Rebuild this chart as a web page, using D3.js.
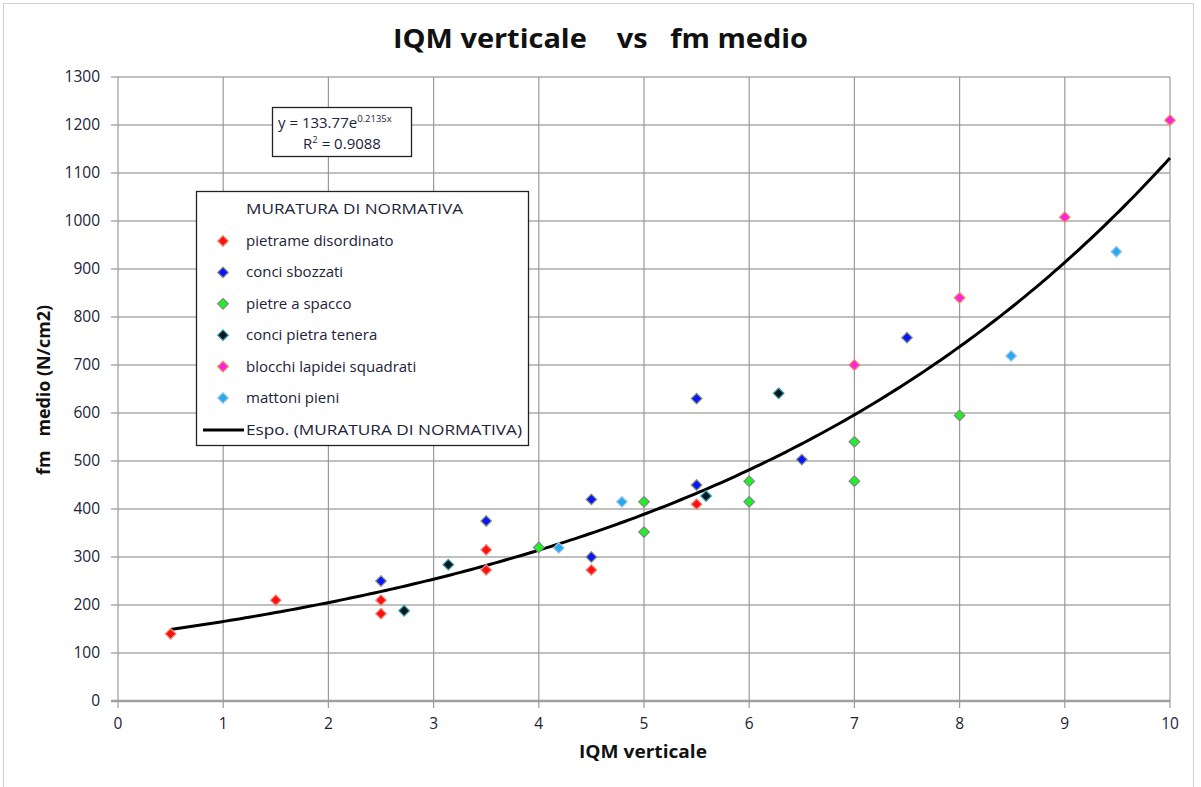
<!DOCTYPE html>
<html>
<head>
<meta charset="utf-8">
<script src="https://cdn.jsdelivr.net/npm/d3@7"></script>
<style>
  body { margin: 0; background: #fff; }
  svg { display: block; font-family: "Open Sans", "Noto Sans", sans-serif; }
</style>
</head>
<body>
<svg width="1201" height="787"></svg>
<script>
// series data
const pietrame_x  = [0.5, 1.5, 2.5, 2.5, 3.5, 3.5, 4.5, 5.5];
const pietrame_y  = [140, 210, 210, 182, 315, 273, 273, 410];
const sbozzati_x  = [2.5, 3.5, 4.5, 4.5, 5.5, 5.5, 6.5, 7.5];
const sbozzati_y  = [250, 375, 420, 300, 630, 450, 503, 757];
const spacco_x    = [4, 5, 5, 6, 6, 7, 7, 8];
const spacco_y    = [320, 415, 352, 458, 415, 540, 458, 595];
const tenera_x    = [2.72, 3.14, 5.59, 6.28];
const tenera_y    = [188, 284, 427, 641];
const blocchi_x   = [7, 8, 9, 10];
const blocchi_y   = [700, 840, 1008, 1210];
const mattoni_x   = [4.19, 4.79, 8.49, 9.49];
const mattoni_y   = [319, 415, 719, 936];

const series_names  = ["pietrame disordinato", "conci sbozzati", "pietre a spacco",
                       "conci pietra tenera", "blocchi lapidei squadrati", "mattoni pieni"];
const series_colors = ["#ff1010", "#0a14ff", "#22ee22", "#06181c", "#ff22dd", "#2aa8ee"];
const series_edges  = ["#e89080", "#8a9a70", "#7a8a8a", "#3aa0b0", "#f09060", "#a0c8e8"];

// exponential trend y = a * e^(b x)
const trend_a  = 133.77;
const trend_b  = 0.2135;
const trend_x0 = 0.5;
const trend_x1 = 10;

const x_ticks = [0, 1, 2, 3, 4, 5, 6, 7, 8, 9, 10];
const y_ticks = [0, 100, 200, 300, 400, 500, 600, 700, 800, 900, 1000, 1100, 1200, 1300];

const text_color = "#1c2238";

const svg    = d3.select("svg");
const width  = +svg.attr("width");
const height = +svg.attr("height");

const plot = { left: 118, right: 1170, top: 77, bottom: 701 };

const x = d3.scaleLinear().domain([0, 10]).range([plot.left, plot.right]);
const y = d3.scaleLinear().domain([0, 1300]).range([plot.bottom, plot.top]);

// outer frame
svg.append("rect")
  .attr("x", 3.5).attr("y", 3.5)
  .attr("width", 1190).attr("height", 790)
  .attr("fill", "none")
  .attr("stroke", "#d0d0d0")
  .attr("stroke-width", 1);

// title
svg.append("text")
  .attr("x", 393).attr("y", 48)
  .attr("font-size", 27)
  .attr("font-weight", "bold")
  .attr("fill", "#111")
  .attr("textLength", 415)
  .attr("lengthAdjust", "spacingAndGlyphs")
  .style("white-space", "pre")
  .text("IQM verticale    vs   fm medio");

// gridlines
const grid = svg.append("g");
grid.selectAll("line.h")
  .data(y_ticks)
  .enter().append("line")
  .attr("x1", plot.left - 7).attr("x2", plot.right)
  .attr("y1", d => y(d)).attr("y2", d => y(d))
  .attr("stroke", d => d === 0 ? "#a0a0a0" : "#ababab")
  .attr("stroke-width", d => d === 0 ? 2.5 : 1.6);

grid.selectAll("line.v")
  .data(x_ticks)
  .enter().append("line")
  .attr("x1", d => x(d)).attr("x2", d => x(d))
  .attr("y1", plot.top).attr("y2", plot.bottom + 7)
  .attr("stroke", "#9a9a9a")
  .attr("stroke-width", 1.2);

// y axis labels
svg.append("g").selectAll("text")
  .data(y_ticks)
  .enter().append("text")
  .attr("x", plot.left - 18)
  .attr("y", d => y(d) + 5)
  .attr("text-anchor", "end")
  .attr("font-size", 15.5)
  .attr("fill", text_color)
  .text(d => d);

// x axis labels
svg.append("g").selectAll("text")
  .data(x_ticks)
  .enter().append("text")
  .attr("x", d => x(d))
  .attr("y", plot.bottom + 28)
  .attr("text-anchor", "middle")
  .attr("font-size", 15.5)
  .attr("fill", text_color)
  .text(d => d);

// axis titles
svg.append("text")
  .attr("x", 579).attr("y", 758)
  .attr("font-size", 17)
  .attr("font-weight", "bold")
  .attr("fill", "#111")
  .attr("textLength", 128)
  .attr("lengthAdjust", "spacingAndGlyphs")
  .text("IQM verticale");

svg.append("text")
  .attr("transform", "translate(50,475) rotate(-90)")
  .attr("font-size", 17)
  .attr("font-weight", "bold")
  .attr("fill", "#111")
  .attr("textLength", 170)
  .attr("lengthAdjust", "spacingAndGlyphs")
  .style("white-space", "pre")
  .text("fm   medio (N/cm2)");

// trend line
const trend_pts = d3.range(0, 201).map(i => {
  const xv = trend_x0 + (trend_x1 - trend_x0) * i / 200;
  return [xv, trend_a * Math.exp(trend_b * xv)];
});
svg.append("path")
  .datum(trend_pts)
  .attr("d", d3.line().x(d => x(d[0])).y(d => y(d[1])))
  .attr("fill", "none")
  .attr("stroke", "#000")
  .attr("stroke-width", 3);

// points
const all_x = [pietrame_x, sbozzati_x, spacco_x, tenera_x, blocchi_x, mattoni_x];
const all_y = [pietrame_y, sbozzati_y, spacco_y, tenera_y, blocchi_y, mattoni_y];
const diamond = d3.symbol().type(d3.symbolDiamond2).size(72);

all_x.forEach(function(xs, s) {
  const pts = xs.map((xv, i) => ({ x: xv, y: all_y[s][i] }));
  svg.append("g").selectAll("path")
    .data(pts)
    .enter().append("path")
    .attr("d", diamond)
    .attr("transform", d => "translate(" + x(d.x) + "," + y(d.y) + ")")
    .attr("fill", series_colors[s])
    .attr("stroke", series_edges[s])
    .attr("stroke-width", 1.2);
});

// equation box
const eq = svg.append("g");
eq.append("rect")
  .attr("x", 272.5).attr("y", 107.5)
  .attr("width", 139).attr("height", 49)
  .attr("fill", "#fff")
  .attr("stroke", "#222")
  .attr("stroke-width", 1.3);
const eq1 = eq.append("text")
  .attr("x", 278).attr("y", 128)
  .attr("font-size", 15)
  .attr("fill", text_color);
eq1.append("tspan").text("y = 133.77e");
eq1.append("tspan").attr("font-size", 9.5).attr("dy", -6).text("0.2135x");
const eq2 = eq.append("text")
  .attr("x", 342).attr("y", 149)
  .attr("text-anchor", "middle")
  .attr("font-size", 15)
  .attr("fill", text_color);
eq2.append("tspan").text("R");
eq2.append("tspan").attr("font-size", 9.5).attr("dy", -6).text("2");
eq2.append("tspan").attr("dy", 6).text(" = 0.9088");

// legend
const lg = svg.append("g");
lg.append("rect")
  .attr("x", 196.5).attr("y", 191.5)
  .attr("width", 332).attr("height", 254)
  .attr("fill", "#fff")
  .attr("stroke", "#222")
  .attr("stroke-width", 1.3);
lg.append("text")
  .attr("x", 246).attr("y", 214)
  .attr("font-size", 15)
  .attr("fill", text_color)
  .attr("textLength", 217)
  .attr("lengthAdjust", "spacingAndGlyphs")
  .text("MURATURA DI NORMATIVA");

series_names.forEach(function(name, i) {
  const ly = 241 + i * 31.4;
  lg.append("path")
    .attr("d", diamond)
    .attr("transform", "translate(223," + ly + ")")
    .attr("fill", series_colors[i])
    .attr("stroke", series_edges[i])
    .attr("stroke-width", 1.2);
  lg.append("text")
    .attr("x", 246).attr("y", ly + 5)
    .attr("font-size", 15)
    .attr("fill", text_color)
    .text(name);
});
lg.append("line")
  .attr("x1", 203).attr("x2", 244)
  .attr("y1", 430).attr("y2", 430)
  .attr("stroke", "#000")
  .attr("stroke-width", 3);
lg.append("text")
  .attr("x", 246).attr("y", 435)
  .attr("font-size", 15)
  .attr("fill", text_color)
  .attr("textLength", 276)
  .attr("lengthAdjust", "spacingAndGlyphs")
  .text("Espo. (MURATURA DI NORMATIVA)");
</script>
</body>
</html>
